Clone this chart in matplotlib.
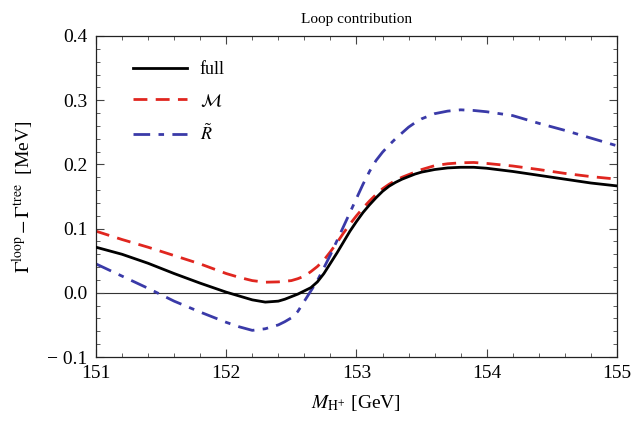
import matplotlib
matplotlib.use('Agg')
import matplotlib.pyplot as plt
from matplotlib.ticker import MultipleLocator

plt.rcParams['font.family'] = ['Liberation Serif', 'DejaVu Serif']
plt.rcParams['mathtext.fontset'] = 'stix'

# charged Higgs mass [GeV]
mass = [151.0, 151.2, 151.4, 151.6, 151.8, 152.0, 152.1, 152.2, 152.3, 152.4,
        152.45, 152.5, 152.55, 152.6, 152.65, 152.7, 152.75, 152.8, 152.85, 152.9,
        152.95, 153.0, 153.05, 153.1, 153.15, 153.2, 153.25, 153.3, 153.35, 153.4,
        153.45, 153.5, 153.6, 153.7, 153.8, 153.9, 154.0, 154.2, 154.4, 154.6,
        154.8, 155.0]

# Gamma^loop - Gamma^tree [MeV]
full = [0.071, 0.060, 0.046, 0.030, 0.015, 0.001, -0.005, -0.011, -0.0145, -0.013,
        -0.010, -0.006, -0.002, 0.003, 0.008, 0.017, 0.030, 0.046, 0.062, 0.079,
        0.096, 0.111, 0.125, 0.137, 0.148, 0.158, 0.166, 0.172, 0.177, 0.181,
        0.185, 0.188, 0.192, 0.1945, 0.1955, 0.1955, 0.194, 0.189, 0.183, 0.177,
        0.171, 0.1665]
m_only = [0.096, 0.083, 0.071, 0.058, 0.045, 0.030, 0.024, 0.019, 0.0165, 0.017,
          0.018, 0.019, 0.022, 0.026, 0.033, 0.041, 0.051, 0.064, 0.078, 0.093,
          0.107, 0.120, 0.132, 0.143, 0.153, 0.162, 0.169, 0.175, 0.180, 0.184,
          0.188, 0.192, 0.198, 0.201, 0.2025, 0.203, 0.2015, 0.1975, 0.192, 0.186,
          0.181, 0.177]
r_only = [0.045, 0.026, 0.007, -0.013, -0.030, -0.046, -0.053, -0.0585, -0.056, -0.050,
          -0.045, -0.039, -0.029, -0.013, 0.003, 0.019, 0.039, 0.059, 0.081, 0.103,
          0.125, 0.147, 0.169, 0.189, 0.206, 0.219, 0.230, 0.240, 0.249, 0.258,
          0.265, 0.271, 0.279, 0.283, 0.285, 0.284, 0.282, 0.276, 0.264, 0.253,
          0.241, 0.229]

labels = ['full', r'$\mathcal{M}$', r'$\tilde{R}$']
ytick_vals = [-0.1, 0.0, 0.1, 0.2, 0.3, 0.4]
ytick_labels = ['\u2212 0.1', '0.0', '0.1', '0.2', '0.3', '0.4']

fig = plt.figure(figsize=(6.42, 4.25), dpi=100)
ax = fig.add_axes([0.1495, 0.16, 0.8115, 0.7553])

ax.axhline(0, color='#333333', lw=0.8, zorder=1)
ax.plot(mass, full, color='black', lw=2.0, label=labels[0], zorder=3)
ax.plot(mass, m_only, color='#e0261f', lw=2.0, dashes=(5, 3), label=labels[1], zorder=2)
ax.plot(mass, r_only, color='#3a3aa8', lw=2.0, dashes=(6, 3, 2, 3), label=labels[2], zorder=2)

ax.set_xlim(151, 155)
ax.set_ylim(-0.1, 0.4)
ax.xaxis.set_major_locator(MultipleLocator(1))
ax.xaxis.set_minor_locator(MultipleLocator(0.2))
ax.set_yticks(ytick_vals)
ax.set_yticklabels(ytick_labels)
ax.yaxis.set_minor_locator(MultipleLocator(0.02))
ax.tick_params(which='both', direction='in', top=True, right=True,
               labelsize=14, color='#444444')
ax.tick_params(which='major', length=6, width=0.8, pad=6)
ax.tick_params(which='minor', length=3, width=0.6)
for s in ax.spines.values():
    s.set_linewidth(0.9)
    s.set_color('#222222')

ax.set_title('Loop contribution', fontsize=11, pad=9)
ax.set_xlabel(r'$M_{\rm H^{+}}$ [GeV]', fontsize=14, labelpad=8)
ax.set_ylabel(r'$\Gamma^{\rm loop} - \Gamma^{\rm tree}$  [MeV]', fontsize=14, labelpad=8)

ax.legend(loc='upper left', frameon=False, fontsize=13, handlelength=3.0,
          handletextpad=0.7, labelspacing=0.8, borderaxespad=1.0,
          bbox_to_anchor=(0.022, 1.0))

fig.savefig('out.png', dpi=100)
plt.close(fig)
